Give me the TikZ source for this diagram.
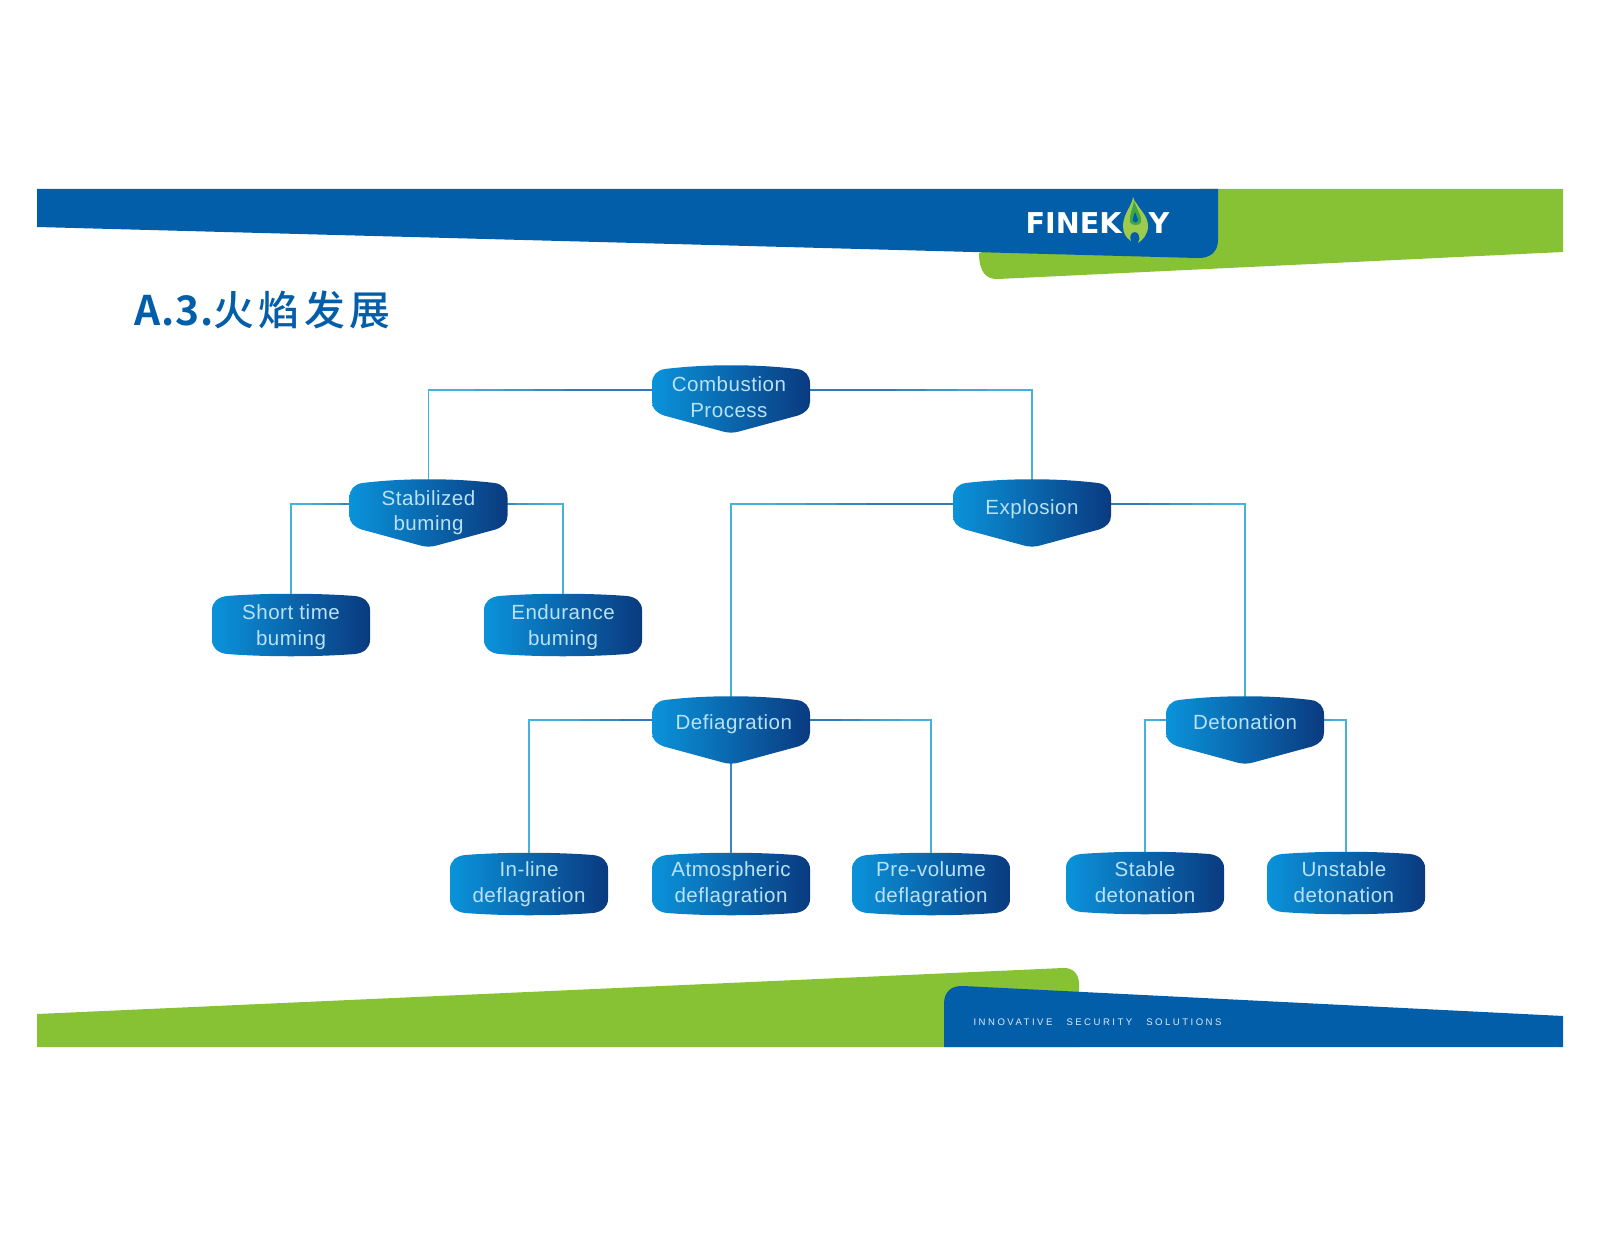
\documentclass[tikz,border=0pt]{standalone}
\usepackage{fontspec}
\usepackage{tikz}
\usetikzlibrary{calc,backgrounds}
\setmainfont{Liberation Sans}
\newfontfamily\boxfont[LetterSpace=2.5]{Liberation Sans}
\newfontfamily\titlefont[LetterSpace=11]{Noto Sans CJK SC Medium}
\newfontfamily\titlelatin[LetterSpace=2]{Noto Sans CJK SC Bold}
\newfontfamily\logofont{DejaVu Sans}
\newfontfamily\tagfont[LetterSpace=26]{Liberation Sans}
\definecolor{bannerblue}{HTML}{035EA9}
\definecolor{bannergreen}{HTML}{87C134}
\definecolor{boxleft}{HTML}{0A93DA}
\definecolor{boxright}{HTML}{0A3A80}
\definecolor{boxtext}{HTML}{B9E2F8}
\definecolor{tagtext}{HTML}{DCEBF7}
\definecolor{linkcyan}{HTML}{45B2DE}
\definecolor{linkdark}{HTML}{2A5FA5}
\definecolor{flamelight}{HTML}{9CCB4E}
\definecolor{flamedark}{HTML}{3FA648}
\tikzset{
  boxfill/.style={left color=boxleft,right color=boxright},
  boxlabel/.style={align=center,inner sep=0pt,text=boxtext,
                   font=\fontsize{7.3}{9.06}\selectfont\boxfont,
                   execute at begin node=\strut,execute at end node=\strut},
  link/.style={linkcyan,line width=0.6pt}
}
\newcommand{\tipbox}[6]{
  \begin{scope}[shift={(#2,#3)}]
  \shade[boxfill] (-66,-30.5) .. controls (-25,-35.5) and (25,-35.5) .. (66,-30.5)
        .. controls (74,-29.5) and (79,-24) .. (79,-16) -- (79,2)
        .. controls (79,9) and (75,13) .. (67,16) -- (8,32)
        .. controls (3,33.5) and (-3,33.5) .. (-8,32) -- (-67,16)
        .. controls (-75,13) and (-79,9) .. (-79,2) -- (-79,-16)
        .. controls (-79,-24) and (-74,-29.5) .. (-66,-30.5) -- cycle;
  \node[boxlabel] (#1) at (0,#4) {#6};
  \coordinate (#1 bus) at (0,#5);
  \end{scope}
}
\newcommand{\flatbox}[5]{
  \begin{scope}[shift={(#2,#3)}]
  \shade[boxfill] (-64,-29) .. controls (-25,-32) and (25,-32) .. (64,-29)
        .. controls (73,-28) and (79,-23) .. (79,-15) -- (79,15)
        .. controls (79,23) and (73,28) .. (64,29)
        .. controls (25,32) and (-25,32) .. (-64,29)
        .. controls (-73,28) and (-79,23) .. (-79,15) -- (-79,-15)
        .. controls (-79,-23) and (-73,-28) .. (-64,-29) -- cycle;
  \node[boxlabel] (#1) at (0,#4) {#5};
  \end{scope}
}
\newcommand{\buslink}[2]{
  \draw[link] (#1 bus) -| (#2);
  \foreach \f/\m in {.85/15,.75/30,.65/50,.55/70}
    \draw[link,color=linkdark!\m!linkcyan] (#1 bus) -- ($(#1 bus)!\f!(#1 bus -| #2)$);
}
\begin{document}
\begin{tikzpicture}[x=0.0125cm,y=-0.0125cm]
\useasboundingbox (0,0) rectangle (1600,1236);
\fill[bannergreen] (1200,189) -- (1563,189) -- (1563,252) -- (998,279)
     .. controls (986,279.5) and (979,272) .. (979,253) -- cycle;
\fill[bannerblue] (37,189) -- (1218,189) -- (1218,240)
     .. controls (1218,252) and (1210,258.5) .. (1197,258) -- (37,227) -- cycle;
\fill[bannergreen] (37,1014) -- (1063,968)
     .. controls (1073,967.5) and (1079,974) .. (1079,984) -- (1079,1030) -- (1079,1047) -- (37,1047) -- cycle;
\fill[bannerblue] (944,1047) -- (944,1004)
     .. controls (944,992) and (951,985.5) .. (963,986) -- (1563,1016) -- (1563,1047) -- cycle;
\node[anchor=west,inner sep=0pt,text=bannerblue,font=\fontsize{14.5}{16}\selectfont]
     (title) at (134,310) {\titlelatin A.3.\titlefont 火焰发展};
\node[anchor=west,inner sep=0pt,text=tagtext,font=\fontsize{3.4}{4}\selectfont\tagfont]
     (tagline) at (973,1022) {INNOVATIVE\hspace{5pt}SECURITY\hspace{5pt}SOLUTIONS};
\node[anchor=west,inner sep=0pt,text=white,font=\fontsize{10.2}{11}\selectfont\logofont\bfseries]
     (logoleft) at (1025,223) {FINEK};
\node[anchor=east,inner sep=0pt,text=white,font=\fontsize{10.2}{11}\selectfont\logofont\bfseries]
     (logoright) at (1170,223) {Y};
\fill[flamelight] (1133,197) .. controls (1132,206) and (1123,214) .. (1123,226)
     .. controls (1123,233) and (1126,238) .. (1131,241)
     .. controls (1129,236) and (1131,232) .. (1135,232)
     .. controls (1139,232) and (1141,238) .. (1138,243)
     .. controls (1143,240) and (1148,234) .. (1148,226)
     .. controls (1148,216) and (1140,210) .. (1137,204)
     .. controls (1135,202) and (1134,200) .. (1133,197) -- cycle;
\fill[flamedark] (1134,201) .. controls (1133,208) and (1129,215) .. (1130,222)
     .. controls (1131,226) and (1140,226) .. (1141,222)
     .. controls (1142,216) and (1137,210) .. (1134,201) -- cycle;
\fill[bannerblue] (1135,212) .. controls (1134,215) and (1132.5,219) .. (1133,221)
     .. controls (1134,223) and (1137,223) .. (1138,221)
     .. controls (1138.5,219) and (1136,215) .. (1135,212) -- cycle;
\tipbox{combustion}{731}{399.5}{1.2}{-9.5}{Combustion\hspace*{1.5pt}\\Process\hspace*{1.5pt}}
\tipbox{stabilized}{428.5}{513.5}{1}{-9.5}{Stabilized\\buming}
\tipbox{explosion}{1032}{513.5}{-4}{-9.5}{Explosion}
\tipbox{defiagration}{731}{730.5}{-6}{-10.5}{\hspace*{2pt}Defiagration}
\tipbox{detonation}{1245}{730.5}{-6}{-10.5}{Detonation}
\flatbox{shorttime}{291}{625}{3.9}{Short time\\buming}
\flatbox{endurance}{563}{625}{3.9}{Endurance\\buming}
\flatbox{inline}{529}{884}{1.9}{In-line\\deflagration}
\flatbox{atmospheric}{731}{884}{1.9}{Atmospheric\\deflagration}
\flatbox{prevolume}{931}{884}{1.9}{Pre-volume\\deflagration}
\flatbox{stable}{1145}{883}{3}{Stable\\detonation}
\flatbox{unstable}{1346}{883}{3}{Unstable\hspace*{1.5pt}\\detonation\hspace*{1.5pt}}
\begin{scope}[on background layer]
\buslink{combustion}{stabilized}
\buslink{combustion}{explosion}
\buslink{stabilized}{shorttime}
\buslink{stabilized}{endurance}
\buslink{explosion}{defiagration}
\buslink{explosion}{detonation}
\buslink{defiagration}{inline}
\buslink{defiagration}{prevolume}
\buslink{detonation}{stable}
\buslink{detonation}{unstable}
\draw[link,color=linkdark!50!linkcyan] (defiagration) -- (atmospheric);
\end{scope}
\end{tikzpicture}
\end{document}
